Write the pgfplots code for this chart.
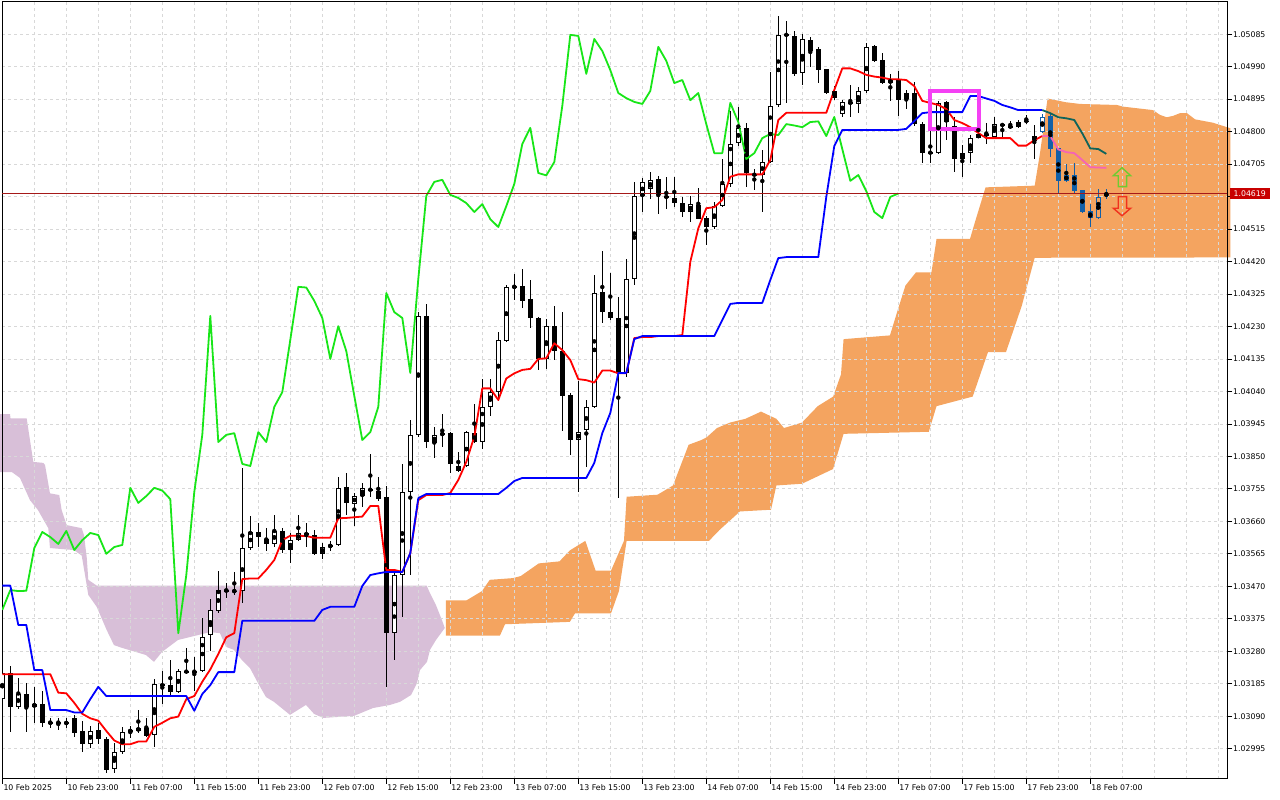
\documentclass[border=0pt]{standalone}
\usepackage{pgfplots}
\pgfplotsset{compat=1.18}
\usepackage{pgfplotstable}
\usepackage{fontspec}
\setmainfont{DejaVu Sans}
\definecolor{cloudO}{RGB}{244,164,96}
\definecolor{cloudP}{RGB}{216,191,216}
\definecolor{gridc}{RGB}{216,216,216}
\definecolor{tenkan}{RGB}{255,0,0}
\definecolor{kijun}{RGB}{0,0,255}
\definecolor{chik}{RGB}{24,230,24}
\definecolor{teal2}{RGB}{16,100,90}
\definecolor{pink2}{RGB}{245,100,180}
\definecolor{candB}{RGB}{18,96,168}
\definecolor{pline}{RGB}{165,25,25}
\definecolor{magbox}{RGB}{244,64,244}
\definecolor{arrG}{RGB}{110,204,50}
\definecolor{arrR}{RGB}{240,50,30}
\definecolor{pbox}{RGB}{200,0,0}

\pgfplotstableread{
i o h l c k
0 1.03140 1.03225 1.03137 1.03216 0
1 1.03216 1.03237 1.03044 1.03117 0
2 1.03117 1.03202 1.03111 1.03155 0
3 1.03155 1.03187 1.03044 1.03117 0
4 1.03117 1.03175 1.03070 1.03126 0
5 1.03126 1.03164 1.03058 1.03070 0
6 1.03073 1.03085 1.03056 1.03070 0
7 1.03073 1.03085 1.03050 1.03070 0
8 1.03073 1.03085 1.03056 1.03067 0
9 1.03085 1.03094 1.03029 1.03041 0
10 1.03047 1.03076 1.02985 1.03009 0
11 1.03009 1.03061 1.02997 1.03047 0
12 1.03050 1.03070 1.03009 1.03023 0
13 1.03023 1.03029 1.02924 1.02933 0
14 1.02936 1.03012 1.02924 1.02985 0
15 1.02985 1.03058 1.02980 1.03044 0
16 1.03044 1.03061 1.03026 1.03050 0
17 1.03047 1.03108 1.03041 1.03056 0
18 1.03056 1.03085 1.03029 1.03032 0
19 1.03035 1.03199 1.03000 1.03184 0
20 1.03184 1.03222 1.03126 1.03178 0
21 1.03181 1.03254 1.03149 1.03161 0
22 1.03161 1.03228 1.03158 1.03222 0
23 1.03222 1.03290 1.03214 1.03219 0
24 1.03222 1.03263 1.03164 1.03219 0
25 1.03222 1.03377 1.03219 1.03322 0
26 1.03328 1.03433 1.03281 1.03401 0
27 1.03398 1.03515 1.03392 1.03459 0
28 1.03459 1.03480 1.03436 1.03456 0
29 1.03455 1.03512 1.03445 1.03457 0
30 1.03456 1.03816 1.03421 1.03582 0
31 1.03582 1.03676 1.03576 1.03629 0
32 1.03629 1.03655 1.03585 1.03614 0
33 1.03608 1.03641 1.03573 1.03594 0
34 1.03594 1.03679 1.03585 1.03632 0
35 1.03632 1.03641 1.03567 1.03576 0
36 1.03576 1.03626 1.03538 1.03605 0
37 1.03605 1.03679 1.03603 1.03626 0
38 1.03626 1.03655 1.03585 1.03620 0
39 1.03620 1.03635 1.03562 1.03565 0
40 1.03565 1.03597 1.03550 1.03585 0
41 1.03585 1.03603 1.03573 1.03591 0
42 1.03591 1.03790 1.03588 1.03758 0
43 1.03761 1.03801 1.03679 1.03714 0
44 1.03711 1.03743 1.03646 1.03734 0
45 1.03734 1.03772 1.03702 1.03758 0
46 1.03755 1.03857 1.03731 1.03750 0
47 1.03749 1.03790 1.03720 1.03725 0
48 1.03731 1.03763 1.03175 1.03333 0
49 1.03333 1.03509 1.03254 1.03503 0
50 1.03503 1.03828 1.03380 1.03746 0
51 1.03746 1.03956 1.03503 1.03913 0
52 1.03913 1.04272 1.03907 1.04261 0
53 1.04261 1.04296 1.03875 1.03892 0
54 1.03889 1.03936 1.03845 1.03913 0
55 1.03913 1.03974 1.03877 1.03918 0
56 1.03918 1.03921 1.03801 1.03828 0
57 1.03807 1.03863 1.03804 1.03822 0
58 1.03822 1.03924 1.03819 1.03921 0
59 1.03918 1.04003 1.03889 1.03892 0
60 1.03892 1.04076 1.03872 1.03995 0
61 1.03995 1.04076 1.03968 1.04038 0
62 1.04038 1.04214 1.04012 1.04191 0
63 1.04188 1.04351 1.04185 1.04346 0
64 1.04348 1.04384 1.04308 1.04344 0
65 1.04348 1.04398 1.04284 1.04305 0
66 1.04310 1.04366 1.04226 1.04255 0
67 1.04255 1.04258 1.04103 1.04135 0
68 1.04135 1.04252 1.04106 1.04231 0
69 1.04231 1.04290 1.04132 1.04158 0
70 1.04158 1.04272 1.03924 1.04027 0
71 1.04030 1.04035 1.03854 1.03898 0
72 1.03898 1.04071 1.03746 1.03921 0
73 1.03927 1.04015 1.03819 1.03995 0
74 1.03995 1.04381 1.03992 1.04328 0
75 1.04331 1.04451 1.04240 1.04272 0
76 1.04272 1.04386 1.04249 1.04255 0
77 1.04255 1.04316 1.03728 1.04094 0
78 1.04094 1.04427 1.04082 1.04369 0
79 1.04369 1.04653 1.04351 1.04612 0
80 1.04612 1.04664 1.04565 1.04653 0
81 1.04632 1.04682 1.04603 1.04659 0
82 1.04661 1.04670 1.04559 1.04615 0
83 1.04612 1.04667 1.04574 1.04606 0
84 1.04606 1.04667 1.04580 1.04591 0
85 1.04591 1.04609 1.04550 1.04565 0
86 1.04565 1.04612 1.04536 1.04588 0
87 1.04585 1.04635 1.04543 1.04544 0
88 1.04547 1.04553 1.04468 1.04521 0
89 1.04521 1.04594 1.04515 1.04582 0
90 1.04582 1.04720 1.04580 1.04647 0
91 1.04647 1.04860 1.04638 1.04764 0
92 1.04767 1.04872 1.04758 1.04811 0
93 1.04811 1.04825 1.04638 1.04679 0
94 1.04676 1.04691 1.04629 1.04672 0
95 1.04673 1.04746 1.04565 1.04711 0
96 1.04711 1.04974 1.04708 1.04875 0
97 1.04878 1.05138 1.04872 1.05083 0
98 1.05086 1.05124 1.04884 1.05080 0
99 1.05080 1.05094 1.04963 1.04969 0
100 1.04971 1.05086 1.04936 1.05071 0
101 1.05068 1.05077 1.04989 1.05036 0
102 1.05042 1.05048 1.04942 1.04980 0
103 1.04983 1.04983 1.04910 1.04913 0
104 1.04919 1.04933 1.04892 1.04898 0
105 1.04852 1.04892 1.04843 1.04887 0
106 1.04887 1.04936 1.04843 1.04881 0
107 1.04881 1.04930 1.04854 1.04919 0
108 1.04919 1.05059 1.04913 1.05048 0
109 1.05050 1.05053 1.05004 1.05007 0
110 1.05009 1.05030 1.04939 1.04942 0
111 1.04942 1.04969 1.04890 1.04951 0
112 1.04951 1.04977 1.04846 1.04892 0
113 1.04895 1.04922 1.04866 1.04913 0
114 1.04913 1.04945 1.04816 1.04822 0
115 1.04822 1.04828 1.04708 1.04737 0
116 1.04740 1.04805 1.04708 1.04737 0
117 1.04737 1.04890 1.04735 1.04884 0
118 1.04887 1.04890 1.04775 1.04828 0
119 1.04816 1.04843 1.04682 1.04720 0
120 1.04720 1.04761 1.04667 1.04737 0
121 1.04737 1.04790 1.04708 1.04781 0
122 1.04781 1.04828 1.04781 1.04793 0
123 1.04793 1.04825 1.04764 1.04790 0
124 1.04784 1.04843 1.04781 1.04822 0
125 1.04821 1.04825 1.04784 1.04818 0
126 1.04816 1.04831 1.04808 1.04813 0
127 1.04813 1.04834 1.04811 1.04828 0
128 1.04832 1.04849 1.04822 1.04830 0
129 1.04773 1.04819 1.04720 1.04787 0
130 1.04799 1.04852 1.04796 1.04843 1
131 1.04846 1.04854 1.04726 1.04749 2
132 1.04752 1.04752 1.04620 1.04656 2
133 1.04656 1.04705 1.04653 1.04673 2
134 1.04673 1.04708 1.04618 1.04626 2
135 1.04629 1.04629 1.04562 1.04565 2
136 1.04568 1.04588 1.04521 1.04547 2
137 1.04547 1.04632 1.04544 1.04609 2
138 1.04612 1.04632 1.04603 1.04619 2
}\candles

\pgfplotstableread{
i v
0 1.03213
1 1.03213
2 1.03213
3 1.03213
4 1.03213
5 1.03213
6 1.03213
7 1.03159
8 1.03157
9 1.03129
10 1.03097
11 1.03084
12 1.03077
13 1.03047
14 1.03019
15 1.03008
16 1.03008
17 1.03016
18 1.03016
19 1.03059
20 1.03071
21 1.03084
22 1.03089
23 1.03140
24 1.03149
25 1.03191
26 1.03227
27 1.03272
28 1.03321
29 1.03333
30 1.03491
31 1.03493
32 1.03493
33 1.03518
34 1.03547
35 1.03605
36 1.03618
37 1.03618
38 1.03617
39 1.03612
40 1.03612
41 1.03612
42 1.03669
43 1.03670
44 1.03672
45 1.03674
46 1.03705
47 1.03705
48 1.03518
49 1.03518
50 1.03512
51 1.03567
52 1.03722
53 1.03737
54 1.03737
55 1.03737
56 1.03743
57 1.03781
58 1.03834
59 1.03908
60 1.04049
61 1.04049
62 1.04015
63 1.04078
64 1.04093
65 1.04103
66 1.04106
67 1.04135
68 1.04137
69 1.04181
70 1.04161
71 1.04132
72 1.04076
73 1.04073
74 1.04066
75 1.04101
76 1.04101
77 1.04093
78 1.04093
79 1.04196
80 1.04199
81 1.04199
82 1.04202
83 1.04202
84 1.04202
85 1.04205
86 1.04419
87 1.04517
88 1.04576
89 1.04579
90 1.04600
91 1.04668
92 1.04675
93 1.04675
94 1.04675
95 1.04675
96 1.04717
97 1.04834
98 1.04855
99 1.04855
100 1.04855
101 1.04855
102 1.04855
103 1.04855
104 1.04922
105 1.04985
106 1.04985
107 1.04977
108 1.04966
109 1.04961
110 1.04958
111 1.04953
112 1.04953
113 1.04951
114 1.04933
115 1.04890
116 1.04884
117 1.04878
118 1.04866
119 1.04834
120 1.04825
121 1.04813
122 1.04796
123 1.04781
124 1.04781
125 1.04781
126 1.04781
127 1.04759
128 1.04759
129 1.04775
130 1.04787
}\tenkantab

\pgfplotstableread{
i v
0 1.03472
1 1.03472
2 1.03357
3 1.03357
4 1.03225
5 1.03225
6 1.03108
7 1.03108
8 1.03108
9 1.03101
10 1.03101
11 1.03140
12 1.03176
13 1.03149
14 1.03149
15 1.03149
16 1.03149
17 1.03149
18 1.03149
19 1.03149
20 1.03149
21 1.03149
22 1.03149
23 1.03149
24 1.03106
25 1.03155
26 1.03181
27 1.03219
28 1.03219
29 1.03219
30 1.03369
31 1.03369
32 1.03369
33 1.03369
34 1.03369
35 1.03369
36 1.03369
37 1.03369
38 1.03369
39 1.03369
40 1.03401
41 1.03410
42 1.03410
43 1.03410
44 1.03410
45 1.03471
46 1.03503
47 1.03508
48 1.03512
49 1.03512
50 1.03512
51 1.03567
52 1.03728
53 1.03740
54 1.03740
55 1.03740
56 1.03740
57 1.03740
58 1.03740
59 1.03740
60 1.03740
61 1.03740
62 1.03740
63 1.03758
64 1.03778
65 1.03787
66 1.03787
67 1.03787
68 1.03787
69 1.03787
70 1.03787
71 1.03787
72 1.03787
73 1.03787
74 1.03831
75 1.03918
76 1.03977
77 1.04094
78 1.04094
79 1.04193
80 1.04202
81 1.04202
82 1.04202
83 1.04202
84 1.04202
85 1.04202
86 1.04202
87 1.04202
88 1.04202
89 1.04202
90 1.04249
91 1.04296
92 1.04299
93 1.04299
94 1.04299
95 1.04299
96 1.04366
97 1.04430
98 1.04433
99 1.04433
100 1.04433
101 1.04433
102 1.04433
103 1.04609
104 1.04758
105 1.04805
106 1.04805
107 1.04805
108 1.04805
109 1.04805
110 1.04805
111 1.04805
112 1.04805
113 1.04808
114 1.04831
115 1.04854
116 1.04857
117 1.04857
118 1.04857
119 1.04857
120 1.04857
121 1.04904
122 1.04904
123 1.04897
124 1.04890
125 1.04878
126 1.04871
127 1.04863
128 1.04863
129 1.04863
130 1.04863
}\kijuntab

\begin{document}
\begin{tikzpicture}
\begin{axis}[
  set layers,
  at={(2pt,21pt)}, anchor=south west,
  scale only axis, width=1225pt, height=777pt,
  xmin=-0.0375, xmax=153.09, ymin=1.029064, ymax=1.051792,
  axis line style={draw=black, line width=1pt},
  tick align=outside,
  xtick pos=left, ytick pos=right, yticklabel pos=right,
  major tick length=5pt, minor tick length=0pt,
  tick style={draw=black, line width=0.8pt},
  xtick={0,8,...,136},
  xticklabels={10 Feb 2025,10 Feb 23:00,11 Feb 07:00,11 Feb 15:00,11 Feb 23:00,12 Feb 07:00,12 Feb 15:00,12 Feb 23:00,13 Feb 07:00,13 Feb 15:00,13 Feb 23:00,14 Feb 07:00,14 Feb 15:00,14 Feb 23:00,17 Feb 07:00,17 Feb 15:00,17 Feb 23:00,18 Feb 07:00},
  minor xtick={4,12,...,148,144,152},
  ytick={1.02995,1.03090,1.03185,1.03280,1.03375,1.03470,1.03565,1.03660,1.03755,1.03850,1.03945,1.04040,1.04135,1.04230,1.04325,1.04420,1.04515,1.04610,1.04705,1.04800,1.04895,1.04990,1.05085},
  yticklabels={1.02995,1.03090,1.03185,1.03280,1.03375,1.03470,1.03565,1.03660,1.03755,1.03850,1.03945,1.04040,1.04135,1.04230,1.04325,1.04420,1.04515,{},1.04705,1.04800,1.04895,1.04990,1.05085},
  xmajorgrids, xminorgrids, ymajorgrids,
  major grid style={draw=gridc, line width=0.8pt, dash pattern=on 3pt off 3pt},
  minor grid style={draw=gridc, line width=0.8pt, dash pattern=on 3pt off 3pt},
  every tick label/.append style={font=\fontsize{7.8}{9}\selectfont, text=black},
  xticklabel style={anchor=north west, inner sep=0pt, xshift=1pt},
  yticklabel style={anchor=west, inner sep=0pt, xshift=1pt},
  scaled y ticks=false,
  /pgf/number format/assume math mode=true,
]
% ---- cloud (Senkou span A / B) ----
\addplot[on layer=axis background, fill=cloudP, draw=none] coordinates {
(-0.5,1.03974) (0.96,1.03974) (1.03,1.03961) (3.05,1.03961) (3.25,1.03930) (3.875,1.03834) (5.125,1.03831) (5.34,1.03825) (5.96,1.03742) (7.12,1.03737) (7.42,1.03693) (8.05,1.03649) (9.925,1.03640) (10.21,1.03620) (10.55,1.03556) (10.75,1.03489) (11.8,1.03472) (53.05,1.03472) (53.46,1.03450) (54.21,1.03415) (54.96,1.03371) (55.31,1.03348)
(54.21,1.03313) (53.46,1.03284) (53.09,1.03249) (52.21,1.03225) (51.84,1.03187) (51.09,1.03152) (49.71,1.03132) (48.46,1.03123) (46.34,1.03114) (43.96,1.03091) (40.09,1.03085) (38.96,1.03097) (37.96,1.03123) (35.96,1.03094) (33.96,1.03132) (32.96,1.03146) (31.96,1.03187) (30.96,1.03231) (29.96,1.03254) (28.96,1.03284) (27.96,1.03293) (27.21,1.03333) (25.96,1.03336) (21.96,1.03313) (19.96,1.03278) (18.96,1.03249) (17.96,1.03269) (14.96,1.03290) (13.96,1.03298) (13.05,1.03342) (11.8,1.03410) (10.75,1.03445) (10.34,1.03503) (9.925,1.03560) (8.96,1.03576) (5.96,1.03582) (5.75,1.03640) (4.46,1.03693) (3.46,1.03722) (2.21,1.03787) (1.21,1.03804) (-0.5,1.03804)
} --cycle;
\addplot[on layer=axis background, fill=cloudO, draw=none] coordinates {
(55.44,1.03429) (58.03,1.03429) (59.96,1.03456) (60.93,1.03489) (63.84,1.03494) (64.8,1.03500) (67.06,1.03537) (69.65,1.03543) (70.94,1.03575) (72.88,1.03603) (74.16,1.03516) (76.09,1.03516) (77.71,1.03603) (78.04,1.03732) (81.91,1.03738) (83.84,1.03765) (85.79,1.03884) (87.4,1.03898) (88.05,1.03906) (89.34,1.03933) (90.96,1.03949) (92.89,1.03960) (94.84,1.03981) (96.76,1.03960) (97.71,1.03933) (99.96,1.03949) (101.93,1.03997) (103.86,1.04025) (104.84,1.04090) (105.16,1.04193) (110.96,1.04204) (111.94,1.04279) (112.9,1.04350) (114.2,1.04388) (116.14,1.04388) (116.78,1.04486) (120.96,1.04486) (121.63,1.04539) (122.91,1.04637) (129.05,1.04642) (129.7,1.04735) (130.66,1.04897) (132.93,1.04886) (134.71,1.04881) (139.3,1.04878) (140.13,1.04873) (143.84,1.04863) (144.71,1.04849) (145.55,1.04842) (146.34,1.04846) (147.21,1.04854) (148.09,1.04854) (149.09,1.04836) (151.34,1.04826) (153.5,1.04810)
(153.5,1.04432) (129.05,1.04431) (127.43,1.04290) (125.46,1.04155) (123.21,1.04155) (121.3,1.04025) (116.78,1.03997) (115.81,1.03922) (105.16,1.03916) (103.84,1.03813) (99.96,1.03770) (96.76,1.03765) (96.09,1.03694) (92.21,1.03689) (89.66,1.03635) (88.34,1.03603) (78.04,1.03603) (77.08,1.03456) (76.09,1.03391) (71.59,1.03391) (70.94,1.03366) (62.84,1.03359) (62.21,1.03326) (55.44,1.03326)
} --cycle;

% ---- candles: wicks ----
\addplot[only marks, mark=none, restrict expr to domain={\thisrow{k}}{-0.5:0.5},
  error bars/y dir=both, error bars/y explicit, error bars/error mark=none,
  error bars/error bar style={draw=black, line width=1pt}]
  table[x=i, y expr={0.5*(\thisrow{h}+\thisrow{l})}, y error expr={0.5*(\thisrow{h}-\thisrow{l})}] {\candles};
\addplot[only marks, mark=none, restrict expr to domain={\thisrow{k}}{0.5:2.5},
  error bars/y dir=both, error bars/y explicit, error bars/error mark=none,
  error bars/error bar style={draw=candB, line width=1pt}]
  table[x=i, y expr={0.5*(\thisrow{h}+\thisrow{l})}, y error expr={0.5*(\thisrow{h}-\thisrow{l})}] {\candles};
% ---- candles: bodies ----
\addplot[only marks, mark=none, restrict expr to domain={\thisrow{k}}{-0.5:0.5},
  error bars/y dir=both, error bars/y explicit, error bars/error mark=none,
  error bars/error bar style={draw=black, line width=5pt}]
  table[x=i, y expr={0.5*(\thisrow{o}+\thisrow{c})}, y error expr={max(0.5*abs(\thisrow{c}-\thisrow{o}),0.0000146)}] {\candles};
\addplot[only marks, mark=none, restrict expr to domain={\thisrow{k}}{0.5:2.5},
  error bars/y dir=both, error bars/y explicit, error bars/error mark=none,
  error bars/error bar style={draw=candB, line width=5pt}]
  table[x=i, y expr={0.5*(\thisrow{o}+\thisrow{c})}, y error expr={max(0.5*abs(\thisrow{c}-\thisrow{o}),0.0000146)}] {\candles};
% hollow (rising) bodies
\addplot[only marks, mark=none, restrict expr to domain={(\thisrow{c}>\thisrow{o})*(\thisrow{k}<1.5)}{0.5:1.5},
  error bars/y dir=both, error bars/y explicit, error bars/error mark=none,
  error bars/error bar style={draw=white, line width=3pt}]
  table[x=i, y expr={0.5*(\thisrow{o}+\thisrow{c})}, y error expr={max(0.5*abs(\thisrow{c}-\thisrow{o})-0.0000293,0)}] {\candles};
\addplot[only marks, mark=none, restrict expr to domain={(\thisrow{c}>\thisrow{o})*(\thisrow{k}>1.5)}{0.5:1.5},
  error bars/y dir=both, error bars/y explicit, error bars/error mark=none,
  error bars/error bar style={draw=cloudO, line width=3pt}]
  table[x=i, y expr={0.5*(\thisrow{o}+\thisrow{c})}, y error expr={max(0.5*abs(\thisrow{c}-\thisrow{o})-0.0000293,0)}] {\candles};

% ---- Ichimoku lines ----
\addplot[chik, line width=1.8pt, line join=round, mark=none, restrict x to domain=-0.5:112.5]
  table[x expr={\thisrow{i}-26}, y=c] {\candles};
\addplot[tenkan, line width=1.8pt, line join=round, mark=none] table[x=i, y=v] {\tenkantab};
\addplot[pink2, line width=1.8pt, line join=round, mark=none] table[x=i, y=v] {
i v
130 1.04787
131 1.04787
132 1.04748
133 1.04740
134 1.04737
135 1.04717
136 1.04696
137 1.04695
138 1.04694
};
\addplot[kijun, line width=1.8pt, line join=round, mark=none] table[x=i, y=v] {\kijuntab};
\addplot[teal2, line width=1.8pt, line join=round, mark=none] table[x=i, y=v] {
i v
130 1.04863
131 1.04854
132 1.04842
133 1.04839
134 1.04834
135 1.04795
136 1.04751
137 1.04749
138 1.04735
};

% ---- annotations ----
\addplot[magbox, line width=4pt, line join=miter, mark=none] coordinates {
(116.0,1.04918) (122.05,1.04918) (122.05,1.04809) (116.0,1.04809)} --cycle;
\addplot[arrG, line width=1.4pt, line join=miter, mark=none] coordinates {
(139.96,1.046945) (141.05,1.04671) (140.55,1.04671) (140.55,1.04639) (139.5,1.04639) (139.5,1.04671) (138.875,1.04671)} --cycle;
\addplot[arrR, line width=1.4pt, line join=miter, mark=none] coordinates {
(139.5,1.04610) (140.55,1.04610) (140.55,1.04576) (141.05,1.04576) (139.96,1.04554) (138.875,1.04576) (139.5,1.04576)} --cycle;

% ---- current price line ----
\addplot[pline, line width=1pt, mark=none] coordinates {(-1,1.04619) (154,1.04619)};
\coordinate (pl) at (axis cs:153.09,1.04619);
\end{axis}
\node[fill=pbox, text=white, anchor=west, inner xsep=3.9pt, inner ysep=0pt, minimum height=11pt, font=\fontsize{7.8}{9}\selectfont] at ([xshift=2.5pt]pl) {1.04619};
\pgfresetboundingbox
\useasboundingbox (0,0) rectangle (1280pt,800pt);
\end{tikzpicture}
\end{document}
